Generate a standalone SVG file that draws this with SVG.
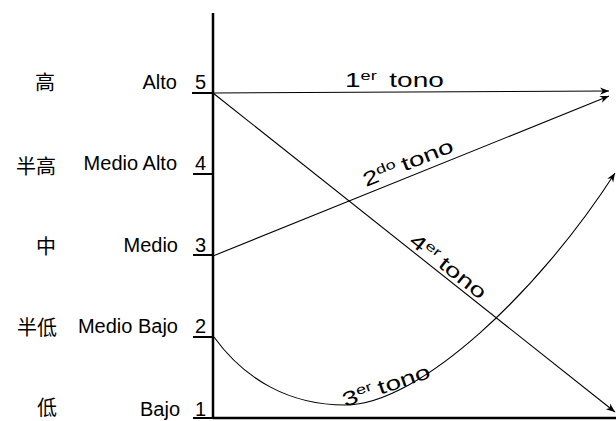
<svg xmlns="http://www.w3.org/2000/svg" width="616" height="421" viewBox="0 0 616 421">
<defs>
<style>
.lab{font-family:"Liberation Sans",Arial,sans-serif;font-size:20px;fill:#000}
.cjk{font-family:"Noto Sans CJK SC","Noto Sans CJK JP",sans-serif;font-size:20px;fill:#000}
.tono{font-family:"Liberation Sans",Arial,sans-serif;font-size:20px;fill:#000}
.sup{font-size:13px}
.axis{stroke:#000;stroke-width:2.5;fill:none}
.tick{stroke:#000;stroke-width:2;fill:none}
.arr{stroke:#000;stroke-width:1.1;fill:none;marker-end:url(#ah)}
</style>
<marker id="ah" viewBox="0 0 10 10" refX="10" refY="5" markerWidth="9" markerHeight="9" markerUnits="userSpaceOnUse" orient="auto">
<path d="M0,1 L10,5 L0,9 L3,5 Z" fill="#000"/>
</marker>
</defs>
<rect width="616" height="421" fill="#fff"/>
<g id="axes">
<line class="axis" x1="213" y1="13" x2="213" y2="418"/>
<line class="axis" x1="213" y1="418" x2="616" y2="418"/>
<line class="tick" x1="192" y1="93" x2="213" y2="93"/>
<line class="tick" x1="193" y1="174" x2="213" y2="174"/>
<line class="tick" x1="193" y1="255" x2="213" y2="255"/>
<line class="tick" x1="193" y1="337" x2="213" y2="337"/>
<line class="tick" x1="193" y1="418" x2="213" y2="418"/>
</g>
<g id="level5"><text class="cjk" x="55" y="90" text-anchor="end">高</text><text class="lab" x="177" y="89" text-anchor="end">Alto</text><text class="lab" x="195" y="89">5</text></g>
<g id="level4"><text class="cjk" x="56" y="174" text-anchor="end">半高</text><text class="lab" x="177" y="170" text-anchor="end">Medio Alto</text><text class="lab" x="195" y="170">4</text></g>
<g id="level3"><text class="cjk" x="56" y="254" text-anchor="end">中</text><text class="lab" x="178" y="252" text-anchor="end">Medio</text><text class="lab" x="195" y="252">3</text></g>
<g id="level2"><text class="cjk" x="57" y="335" text-anchor="end">半低</text><text class="lab" x="178" y="333" text-anchor="end">Medio Bajo</text><text class="lab" x="195" y="333">2</text></g>
<g id="level1"><text class="cjk" x="57" y="415" text-anchor="end">低</text><text class="lab" x="180" y="416" text-anchor="end">Bajo</text><text class="lab" x="195" y="416">1</text></g>
<g id="connectors">
<line class="arr" x1="213" y1="93" x2="609" y2="91"/>
<line class="arr" x1="213" y1="256" x2="609" y2="96"/>
<line class="arr" x1="213" y1="93" x2="615" y2="412"/>
<path class="arr" d="M214,337 C245,380 290,405 345,405 C420,405 540,290 615,173"/>
</g>
<g id="labels">
<text class="tono" transform="translate(345,87) scale(1.4,1)">1<tspan class="sup" dy="-7">er</tspan><tspan dx="9" dy="7">tono</tspan></text>
<text class="tono" transform="translate(366,187) rotate(-22) scale(1.4,1)">2<tspan class="sup" dy="-7">do</tspan><tspan dx="4" dy="7">tono</tspan></text>
<text class="tono" transform="translate(408,243) rotate(38.5) scale(1.4,1)">4<tspan class="sup" dy="-7">er</tspan><tspan dx="4" dy="7">tono</tspan></text>
<text class="tono" transform="translate(345,407) rotate(-19) scale(1.4,1)">3<tspan class="sup" dy="-7">er</tspan><tspan dx="4" dy="7">tono</tspan></text>
</g>
</svg>
